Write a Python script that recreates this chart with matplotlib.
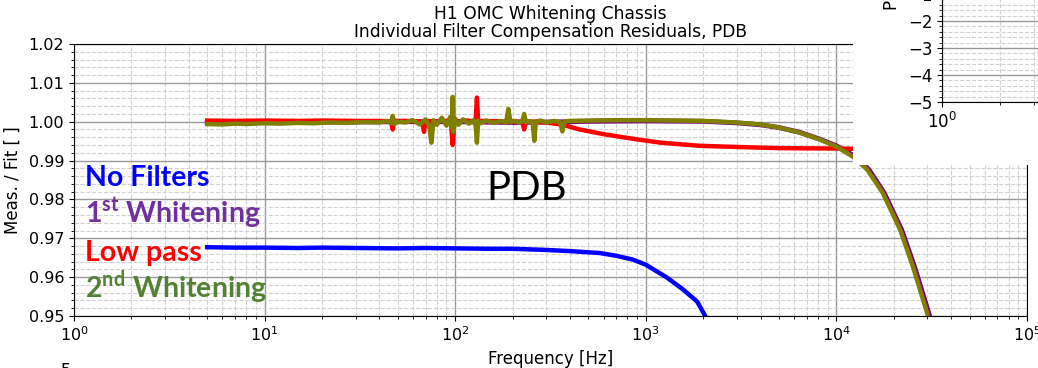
import matplotlib
matplotlib.use("Agg")
import matplotlib.pyplot as plt
from matplotlib.patches import Rectangle
from matplotlib.ticker import MultipleLocator, LogLocator, NullFormatter, FormatStrFormatter

plt.rcParams['mathtext.fontset'] = 'custom'
plt.rcParams['mathtext.bf'] = 'Lato:bold'
plt.rcParams['mathtext.rm'] = 'Lato'

# ---------------- data ----------------
blue_f = [5, 7, 10, 15, 20, 30, 50, 70, 100, 150, 200, 300, 400, 575, 700, 857,
          1000, 1290, 1570, 1860, 2050, 2300]
blue_v = [0.9677, 0.9676, 0.9676, 0.9675, 0.9676, 0.9675, 0.9674, 0.9675, 0.9674,
          0.9673, 0.9673, 0.9670, 0.9667, 0.9662, 0.9655, 0.9645, 0.9632, 0.9599,
          0.9568, 0.9537, 0.9500, 0.9440]

purple_f = [5, 10, 20, 50, 100, 200, 300, 500, 1000, 2000, 3000, 4000, 5000, 6400,
            8200, 10000, 12400, 14800, 17800, 22000, 25700, 30900, 35000]
purple_v = [0.9998, 0.9999, 0.9999, 1.0000, 1.0000, 0.9998, 0.9999, 1.0001, 1.0002,
            1.0001, 0.9997, 0.9992, 0.9985, 0.9973, 0.9955, 0.9938, 0.9912, 0.9877,
            0.9817, 0.9722, 0.9627, 0.9499, 0.9400]

red_f = [5, 7, 10, 15, 20, 30, 40, 46, 47, 48, 55, 65, 67, 68.6, 70, 80, 90, 95, 97,
         99, 105, 115, 125, 128, 130, 132, 140, 170, 200, 225, 230, 235, 260, 300,
         368, 450, 600, 857, 1200, 1920, 3000, 5000, 10000, 13000]
red_v = [1.0003, 1.0002, 1.0003, 1.0002, 1.0003, 1.0002, 1.0002, 1.0001, 0.9980,
         1.0002, 1.0002, 1.0001, 1.0000, 0.9974, 1.0002, 1.0001, 1.0002, 1.0000,
         0.9940, 1.0003, 1.0001, 1.0003, 1.0001, 1.0004, 1.0062, 1.0002, 1.0002,
         1.0001, 1.0001, 1.0000, 0.9980, 1.0001, 1.0000, 0.9998, 0.9992, 0.9980,
         0.9968, 0.9956, 0.9946, 0.9938, 0.9935, 0.9932, 0.9931, 0.9930]

olive_f = [5, 6, 7, 8, 10, 12, 15, 18, 22, 27, 33, 40, 44, 46, 47, 48, 50, 55, 60,
           65, 70, 73, 75, 77, 80, 85, 90, 94, 96, 97, 98, 100, 104, 110, 118, 125,
           128, 130, 132, 136, 145, 160, 175, 185, 190, 195, 205, 215, 225, 230, 235,
           245, 255, 260, 265, 280, 300, 330, 355, 365, 375, 400, 500, 700, 1000,
           1500, 2000, 3000, 4000, 5000, 6400, 8200, 10000, 12200, 14500, 17500,
           21600, 25200, 30300, 34000]
olive_v = [0.9994, 0.9993, 0.9995, 0.9994, 0.9996, 0.9995, 0.9997, 0.9996, 0.9998,
           0.9997, 0.9999, 0.9998, 1.0002, 0.9996, 1.0015, 0.9994, 1.0000, 0.9998,
           1.0004, 0.9993, 1.0006, 0.9990, 0.9946, 1.0004, 0.9992, 1.0010, 0.9990,
           1.0012, 0.9985, 1.0064, 0.9974, 1.0008, 0.9992, 1.0006, 0.9995, 1.0004,
           0.9990, 0.9946, 1.0003, 0.9996, 1.0003, 0.9997, 1.0002, 0.9998, 1.0033,
           0.9999, 1.0002, 0.9998, 1.0001, 1.0020, 0.9999, 1.0001, 0.9998, 0.9951,
           1.0000, 1.0003, 0.9998, 1.0002, 0.9999, 0.9975, 1.0001, 1.0002, 1.0003,
           1.0004, 1.0004, 1.0003, 1.0002, 0.9998, 0.9993, 0.9985, 0.9972, 0.9954,
           0.9936, 0.9910, 0.9877, 0.9817, 0.9722, 0.9627, 0.9499, 0.9400]

labels = ["No Filters", r"1$^{\mathbf{st}}$ Whitening", "Low pass",
          r"2$^{\mathbf{nd}}$ Whitening"]
label_colors = ["#0000FF", "#7030A0", "#FF0000", "#548235"]

# ---------------- figure ----------------
W, H = 1038, 368
fig = plt.figure(figsize=(W / 100, H / 100), dpi=100)

def fx(px):
    return px / W

def fy(py):
    return 1 - py / H

ax = fig.add_axes([fx(74), fy(316), fx(1027) - fx(74), fy(44) - fy(316)])
ax.set_xscale('log')
ax.set_xlim(1, 1e5)
ax.set_ylim(0.95, 1.02)
ax.yaxis.set_major_locator(MultipleLocator(0.01))
ax.yaxis.set_major_formatter(FormatStrFormatter('%.2f'))
ax.yaxis.set_minor_locator(MultipleLocator(0.002))
ax.xaxis.set_minor_locator(LogLocator(base=10, subs=range(2, 10)))
ax.xaxis.set_minor_formatter(NullFormatter())
ax.grid(True, which='major', color='0.6', lw=1.0, ls='-')
ax.grid(True, which='minor', color='0.82', lw=0.8, ls='--')
ax.set_axisbelow(True)
ax.tick_params(labelsize=11.5)

ax.plot(blue_f, blue_v, color='blue', lw=3.2)
ax.plot(purple_f, purple_v, color='purple', lw=3.5)
ax.plot(red_f, red_v, color='red', lw=3.2)
ax.plot(olive_f, olive_v, color='olive', lw=3.2)

ax.set_xlabel("Frequency [Hz]", fontsize=12, labelpad=4)
ax.set_ylabel("Meas. / Fit [ ]", fontsize=12, labelpad=5)
ax.set_title("H1 OMC Whitening Chassis\nIndividual Filter Compensation Residuals, PDB",
             fontsize=12.3, pad=5, linespacing=1.0)

# legend-like text labels
for i, (lab, col) in enumerate(zip(labels, label_colors)):
    fig.text(fx(85), fy(186 + i * 37.3), lab, color=col, fontsize=20.5,
             fontweight='bold', family='Lato', ha='left', va='baseline')

fig.text(fx(527), fy(188), "PDB", fontsize=29, family='Lato', ha='center',
         va='center', color='black')

# pasted inset of phase plot (white box)
fig.patches.append(Rectangle((fx(853), fy(165)), 1 - fx(853), fy(0) - fy(165) + 0.01,
                             transform=fig.transFigure, facecolor='white',
                             edgecolor='none', zorder=5))
axi = fig.add_axes([fx(942), fy(102), fx(942 + 5 * 193) - fx(942),
                    fy(102 - 5 * 27) - fy(102)], zorder=10)
axi.set_xscale('log')
axi.set_xlim(1, 1e5)
axi.set_ylim(-5, 0)
axi.yaxis.set_major_locator(MultipleLocator(1))
axi.yaxis.set_minor_locator(MultipleLocator(0.2))
axi.xaxis.set_minor_locator(LogLocator(base=10, subs=range(2, 10)))
axi.xaxis.set_minor_formatter(NullFormatter())
axi.set_xticks([1])
axi.grid(True, which='major', color='0.6', lw=1.0, ls='-')
axi.grid(True, which='minor', color='0.82', lw=0.8, ls='--')
axi.set_axisbelow(True)
axi.tick_params(labelsize=12)
fig.text(fx(892), fy(10), "Phase [rad]", rotation=90, fontsize=12,
         ha='center', va='bottom', zorder=11)

# cut-off tick label at bottom edge
fig.text(fx(59), fy(362), "\u22125", fontsize=12, ha='center', va='top')

fig.savefig("out.png", dpi=100)
